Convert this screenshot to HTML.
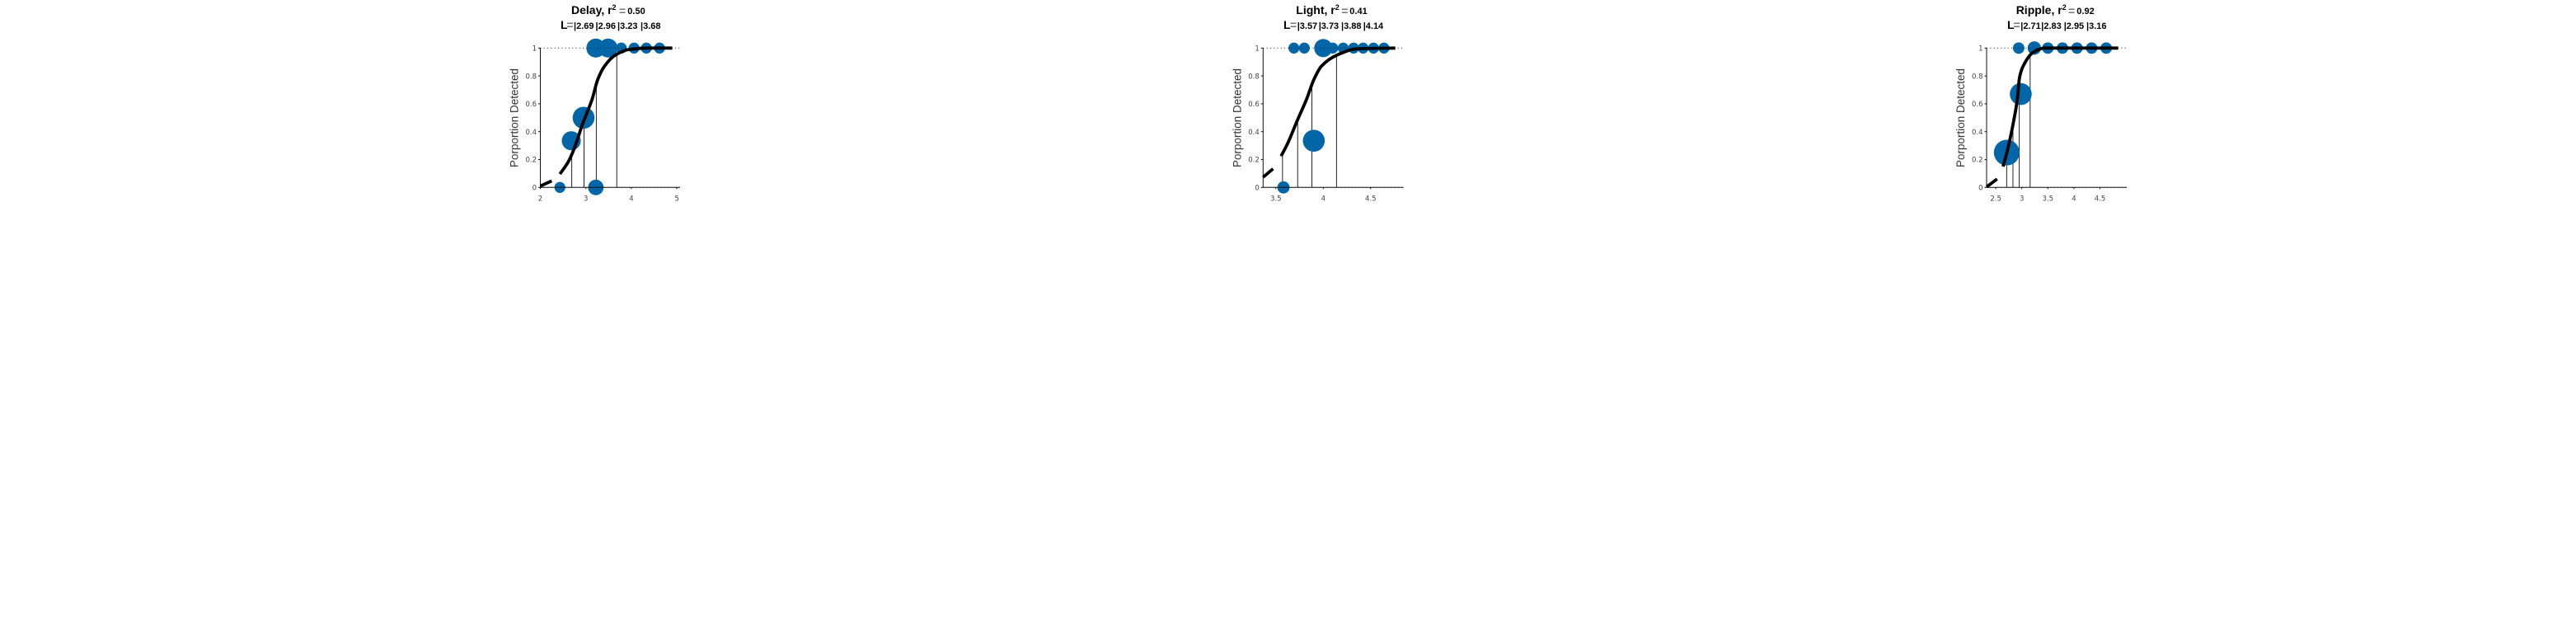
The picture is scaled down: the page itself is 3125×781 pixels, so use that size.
<!DOCTYPE html>
<html>
<head>
<meta charset="utf-8">
<title>Psychometric curves</title>
<style>
html,body{margin:0;padding:0;background:#fff;width:3125px;height:781px;overflow:hidden}
svg{display:block}
.t{font-family:"Liberation Sans",sans-serif;font-weight:bold;fill:#000}
.big{font-size:14px}
.num{font-size:11px}
.eq{font-size:14px;fill:#777}
.sup{font-size:9px}
.tick{font-family:"DejaVu Sans",sans-serif;font-size:8.5px;fill:#444}
.ylab{font-family:"Liberation Sans",sans-serif;font-size:13.5px;fill:#333}
</style>
</head>
<body>
<svg id="chart" xmlns="http://www.w3.org/2000/svg" width="3125" height="781" viewBox="0 0 3125 781">
<rect x="0" y="0" width="3125" height="781" fill="#fff"/>

<g>
<text class="t big" x="693" y="17">Delay, r<tspan class="sup" dy="-5">2</tspan></text>
<text class="t eq" x="751" y="18">=</text>
<text class="t num" x="761.3" y="17">0.50</text>
<text class="t big" x="680" y="35">L</text>
<text class="t eq" x="687.5" y="35">=</text>
<text class="t num" x="696" y="35">|2.69</text>
<text class="t num" x="722.5" y="35">|2.96</text>
<text class="t num" x="749" y="35">|3.23</text>
<text class="t num" x="777" y="35">|3.68</text>
</g>

<g>
<text class="t big" x="1572.3" y="17">Light, r<tspan class="sup" dy="-5">2</tspan></text>
<text class="t eq" x="1627.3" y="18">=</text>
<text class="t num" x="1637.3" y="17">0.41</text>
<text class="t big" x="1557" y="35">L</text>
<text class="t eq" x="1565" y="35">=</text>
<text class="t num" x="1573.7" y="35">|3.57</text>
<text class="t num" x="1599.7" y="35">|3.73</text>
<text class="t num" x="1627" y="35">|3.88</text>
<text class="t num" x="1653.7" y="35">|4.14</text>
</g>

<g>
<text class="t big" x="2445.7" y="17">Ripple, r<tspan class="sup" dy="-5">2</tspan></text>
<text class="t eq" x="2509" y="18">=</text>
<text class="t num" x="2519.3" y="17">0.92</text>
<text class="t big" x="2435" y="35">L</text>
<text class="t eq" x="2442.5" y="35">=</text>
<text class="t num" x="2451.3" y="35">|2.71</text>
<text class="t num" x="2476.3" y="35">|2.83</text>
<text class="t num" x="2503.7" y="35">|2.95</text>
<text class="t num" x="2531" y="35">|3.16</text>
</g>

<g id="plots"></g>
</svg>

<script>
/* shared y axis */
const yTicks = [0, 0.2, 0.4, 0.6, 0.8, 1];
const yTickLabels = ['0', '0.2', '0.4', '0.6', '0.8', '1'];
const curveThresholdLevels = [0.25, 0.5, 0.75, 0.95];

/* Delay */
const delayTicks = [2, 3, 4, 5];
const delayTickLabels = ['2', '3', '4', '5'];
const delayThresholds = [2.69, 2.96, 3.23, 3.68];
const delayCurveX = [2.0, 2.25, null, 2.43, 2.625, 2.746, 2.93, 3.14, 3.26, 3.41, 3.65, 3.95, 4.38, 4.9];
const delayCurveY = [0.01, 0.047, null, 0.096, 0.19, 0.28, 0.457, 0.635, 0.773, 0.87, 0.95, 0.99, 1.0, 1.0];
const delayDotX = [2.43, 2.68, 2.95, 3.22, 3.22, 3.49, 3.78, 4.06, 4.33, 4.62];
const delayDotY = [0, 0.335, 0.5, 0, 1, 1, 1, 1, 1, 1];
const delayDotCount = [2, 6, 8, 4, 6, 6, 2, 2, 2, 2];

/* Light */
const lightTicks = [3.5, 4, 4.5];
const lightTickLabels = ['3.5', '4', '4.5'];
const lightThresholds = [3.57, 3.73, 3.88, 4.14];
const lightCurveX = [3.365, 3.47, null, 3.555, 3.62, 3.73, 3.825, 3.9, 3.98, 4.155, 4.36, 4.76];
const lightCurveY = [0.073, 0.134, null, 0.225, 0.31, 0.487, 0.635, 0.773, 0.87, 0.953, 0.995, 1.0];
const lightDotX = [3.58, 3.9, 3.69, 3.8, 4.0, 4.1, 4.21, 4.32, 4.42, 4.53, 4.64];
const lightDotY = [0, 0.335, 1, 1, 1, 1, 1, 1, 1, 1, 1];
const lightDotCount = [2.5, 8, 2, 2, 5.5, 2, 2, 2, 2, 2, 2];

/* Ripple */
const rippleTicks = [2.5, 3, 3.5, 4, 4.5];
const rippleTickLabels = ['2.5', '3', '3.5', '4', '4.5'];
const rippleThresholds = [2.71, 2.83, 2.95, 3.16];
const rippleCurveX = [2.325, 2.525, null, 2.64, 2.72, 2.825, 2.915, 2.957, 3.06, 3.22, 3.43, 4.85];
const rippleCurveY = [0.004, 0.06, null, 0.15, 0.26, 0.44, 0.635, 0.79, 0.895, 0.97, 1.0, 1.0];
const rippleDotX = [2.71, 2.98, 2.94, 3.24, 3.5, 3.78, 4.06, 4.34, 4.62];
const rippleDotY = [0.25, 0.67, 1, 1, 1, 1, 1, 1, 1];
const rippleDotCount = [11, 8, 2.2, 3, 2.2, 2.2, 2.2, 2.2, 2.2];

const SVGNS = 'http://www.w3.org/2000/svg';
const plots = document.getElementById('plots');
const yTop = 58.3;
const yBottom = 227.3;

function make(tag, parent, attrs) {
  const node = document.createElementNS(SVGNS, tag);
  for (const k in attrs) node.setAttribute(k, attrs[k]);
  parent.appendChild(node);
  return node;
}
function yScale(v) { return yBottom - v * (yBottom - yTop); }
function dotRadius(n) { return 4.7 * Math.sqrt(n); }

/* monotone cubic path through one run of screen points */
function smoothRun(pts) {
  const n = pts.length;
  if (n < 3) return pts.map((q, i) => (i ? 'L' : 'M') + q[0].toFixed(2) + ' ' + q[1].toFixed(2)).join(' ');
  const dx = [], s = [];
  for (let i = 0; i < n - 1; i++) {
    dx.push(pts[i + 1][0] - pts[i][0]);
    s.push((pts[i + 1][1] - pts[i][1]) / dx[i]);
  }
  const m = [s[0]];
  for (let i = 1; i < n - 1; i++) {
    if (s[i - 1] * s[i] <= 0) m.push(0);
    else {
      const w1 = 2 * dx[i] + dx[i - 1], w2 = dx[i] + 2 * dx[i - 1];
      m.push((w1 + w2) / (w1 / s[i - 1] + w2 / s[i]));
    }
  }
  m.push(s[n - 2]);
  let d = 'M' + pts[0][0].toFixed(2) + ' ' + pts[0][1].toFixed(2);
  for (let i = 0; i < n - 1; i++) {
    const h = dx[i] / 3;
    d += ' C' + (pts[i][0] + h).toFixed(2) + ' ' + (pts[i][1] + m[i] * h).toFixed(2) + ' ' +
      (pts[i + 1][0] - h).toFixed(2) + ' ' + (pts[i + 1][1] - m[i + 1] * h).toFixed(2) + ' ' +
      pts[i + 1][0].toFixed(2) + ' ' + pts[i + 1][1].toFixed(2);
  }
  return d;
}

function drawPanel(p) {
  const xScale = v => p.x0 + (v - p.v0) * p.pxPerUnit;
  const g = make('g', plots, {});
  
  

  /* threshold lines */
  p.thresholds.forEach((t, i) => {
    const l = make('line', g, {x1: xScale(t), x2: xScale(t), y1: yBottom, y2: yScale(curveThresholdLevels[i]), stroke: '#222', 'stroke-width': 1});
    
    
  });

  /* dots */
  p.dotX.forEach((x, i) => {
    const c = make('circle', g, {cx: xScale(x), cy: yScale(p.dotY[i]), r: dotRadius(p.dotCount[i]), fill: '#0066a8'});
    
    
  });

  /* axes */
  const yAxis = make('line', g, {x1: p.left, x2: p.left, y1: yTop, y2: yBottom, stroke: '#111', 'stroke-width': 1});
  
  
  const xAxis = make('line', g, {x1: p.left, x2: p.right, y1: yBottom, y2: yBottom, stroke: '#111', 'stroke-width': 1});
  
  

  /* dotted reference lines */
  [0, 1].forEach(level => {
    const d = make('line', g, {x1: p.left, x2: p.right, y1: yScale(level), y2: yScale(level), stroke: '#222', 'stroke-width': 1, 'stroke-dasharray': '1 3.3'});
    
    
  });

  /* y ticks */
  yTicks.forEach((v, i) => {
    const m = make('line', g, {x1: p.left - 2.5, x2: p.left, y1: yScale(v), y2: yScale(v), stroke: '#111', 'stroke-width': 1});
    
    
    const t = make('text', g, {x: p.left - 4.5, y: yScale(v) + 3.2, 'text-anchor': 'end', class: 'tick'});
    t.textContent = yTickLabels[i];
    
    
  });

  /* x ticks */
  p.ticks.forEach((v, i) => {
    const m = make('line', g, {x1: xScale(v), x2: xScale(v), y1: yBottom, y2: yBottom + 2, stroke: '#111', 'stroke-width': 1});
    
    
    const t = make('text', g, {x: xScale(v), y: yBottom + 16, 'text-anchor': 'middle', class: 'tick'});
    t.textContent = p.tickLabels[i];
    
    
  });

  /* fitted curve: a null entry breaks the line */
  const runs = [[]];
  p.curveX.forEach((x, i) => {
    if (x === null) { runs.push([]); return; }
    runs[runs.length - 1].push([xScale(x), yScale(p.curveY[i])]);
  });
  const curve = make('path', g, {d: runs.map(smoothRun).join(' '), fill: 'none', stroke: '#000', 'stroke-width': 3.8, 'stroke-linejoin': 'round'});
  
  

  /* y label */
  const yl = make('text', g, {class: 'ylab', 'text-anchor': 'middle', transform: 'translate(' + (p.left - 27) + ' 143) rotate(-90)'});
  yl.textContent = 'Porportion Detected';
  
  
}

drawPanel({name: 'delay', x0: 655.5, v0: 2, pxPerUnit: 55.2, left: 655.5, right: 825,
  ticks: delayTicks, tickLabels: delayTickLabels, thresholds: delayThresholds,
  curveX: delayCurveX, curveY: delayCurveY, dotX: delayDotX, dotY: delayDotY, dotCount: delayDotCount});
drawPanel({name: 'light', x0: 1605.3, v0: 4, pxPerUnit: 115, left: 1532.3, right: 1702.7,
  ticks: lightTicks, tickLabels: lightTickLabels, thresholds: lightThresholds,
  curveX: lightCurveX, curveY: lightCurveY, dotX: lightDotX, dotY: lightDotY, dotCount: lightDotCount});
drawPanel({name: 'ripple', x0: 2452.7, v0: 3, pxPerUnit: 63.2, left: 2410, right: 2580,
  ticks: rippleTicks, tickLabels: rippleTickLabels, thresholds: rippleThresholds,
  curveX: rippleCurveX, curveY: rippleCurveY, dotX: rippleDotX, dotY: rippleDotY, dotCount: rippleDotCount});
</script>
</body>
</html>
